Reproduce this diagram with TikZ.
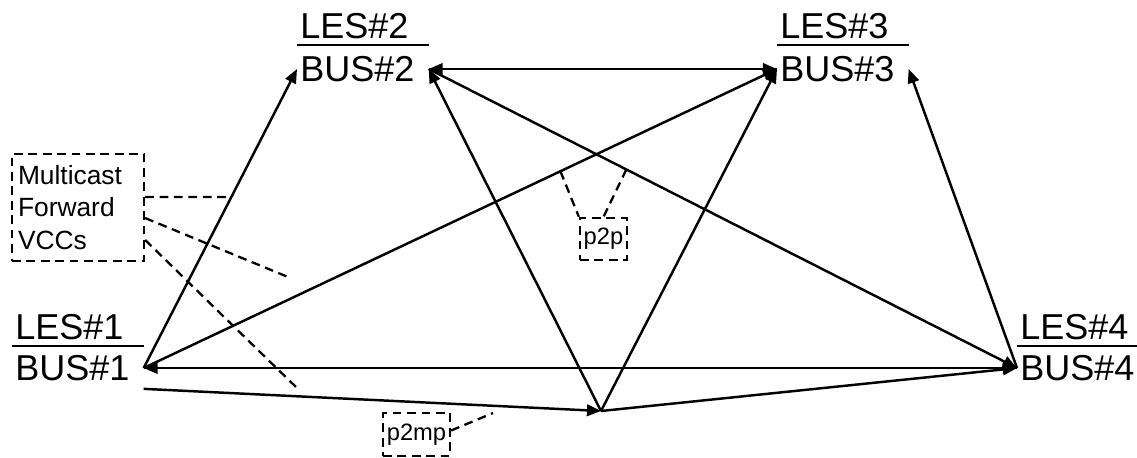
\documentclass[tikz,border=0pt]{standalone}
\usepackage{fontspec}
\setmainfont{Liberation Sans}
\usepackage{tikz}
\usetikzlibrary{arrows.meta,calc}
\tikzset{
    station/.style={
        anchor=west, font=\fontsize{20.5}{24}\selectfont,
        text width=2.5cm, align=left, text height=0.5cm, text depth=0pt,
        inner xsep=0.06cm, inner ysep=0pt
    },
    tagbox/.style={
        draw, line width=1.3pt, dash pattern=on 5pt off 3.2pt,
        inner sep=0pt, align=center
    },
    bar/.style={line width=1.4pt},
    vcc/.style={-{Triangle[length=8pt,width=6.5pt]}, line width=1.4pt},
    leader/.style={line width=1.3pt, dash pattern=on 5pt off 3.2pt}
}
\begin{document}
\begin{tikzpicture}[x=0.02cm, y=-0.02cm]
\useasboundingbox (0,0) rectangle (1137,457);

%% stations: LES over BUS, bar in between
\node[station] (les1) at (12,   327) {LES\#1};
\node[station] (bus1) at (12,   368) {BUS\#1};
\node[station] (les2) at (297,  26)  {LES\#2};
\node[station] (bus2) at (297,  69)  {BUS\#2};
\node[station] (les3) at (777,  26)  {LES\#3};
\node[station] (bus3) at (777,  69)  {BUS\#3};
\node[station] (les4) at (1017, 327) {LES\#4};
\node[station] (bus4) at (1017, 368) {BUS\#4};

\foreach \n in {1,2,3,4}
    \draw[bar] ([yshift=-0.12cm]les\n.south west) -- ([yshift=-0.12cm]les\n.south east);

%% branch point of the p2mp VCC
\coordinate (hub) at (601, 411);

%% labels
\node[tagbox, minimum width=2.64cm, minimum height=2.14cm, text width=2.4cm,
      align=left, font=\fontsize{15}{18.4}\selectfont] (mcast) at (78, 207.5)
    {Multicast\\Forward\\VCCs};
\node[tagbox, minimum width=0.94cm, minimum height=0.84cm,
      font=\fontsize{13.5}{16}\selectfont] (p2p) at (603.5, 239) {p2p};
\node[tagbox, minimum width=1.34cm, minimum height=0.86cm,
      font=\fontsize{13.5}{16}\selectfont] (p2mp) at (416.5, 434.5) {p2mp};

%% p2p VCCs
\draw[vcc] (bus1.east) -- (bus2.west);
\draw[vcc] (bus1.east) -- (bus3.west);
\draw[vcc] (bus4.west) -- (bus1.east);
\draw[vcc] (bus1.east) -- (bus4.west);
\draw[vcc] (bus3.west) -- (bus2.east);
\draw[vcc] (bus2.east) -- (bus3.west);
\draw[vcc] (bus2.east) -- (bus4.west);
\draw[vcc] (bus4.west) -- (bus3.east);

%% p2mp VCC from BUS#1
\draw[vcc] ([yshift=-0.16cm]bus1.south east) -- (hub);
\draw[vcc] (hub) -- (bus2.east);
\draw[vcc] (hub) -- (bus3.west);
\draw[vcc] (hub) -- (bus4.west);

%% leaders
\coordinate (m2) at (288, 277);
\coordinate (m3) at (297, 388);
\coordinate (mp) at (493, 413);
\draw[leader] ([yshift=0.21cm]mcast.east) -- ($(bus1.east)!0.572!(bus2.west)$);
\draw[leader] ([yshift=-0.21cm]mcast.east) -- (m2);
\draw[leader] ([yshift=-0.65cm]mcast.east) -- (m3);
\draw[leader] ($(bus1.east)!0.658!(bus3.west)$) -- (p2p.north west);
\draw[leader] ($(bus2.east)!0.336!(bus4.west)$) -- (p2p.north);
\draw[leader] ([yshift=0.08cm]p2mp.east) -- (mp);

\end{tikzpicture}
\end{document}
